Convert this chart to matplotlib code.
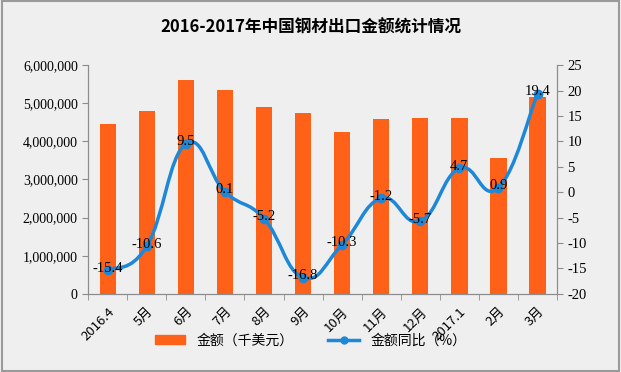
import numpy as np
import matplotlib.pyplot as plt
from matplotlib.path import Path
from matplotlib.patches import PathPatch, Rectangle

plt.rcParams['font.family'] = ['Noto Sans CJK SC', 'DejaVu Sans']

months = ['2016.4', '5月', '6月', '7月', '8月', '9月', '10月', '11月',
          '12月', '2017.1', '2月', '3月']
amount = [4450000, 4790000, 5600000, 5340000, 4900000, 4740000, 4240000,
          4580000, 4610000, 4600000, 3560000, 5160000]
yoy = [-15.4, -10.6, 9.5, 0.1, -5.2, -16.8, -10.3, -1.2, -5.7, 4.7, 0.9, 19.4]

bar_color = '#FF6119'
line_color = '#1E88D8'
axis_color = '#8C8C8C'
num_font = ['Liberation Serif', 'DejaVu Serif']

fig = plt.figure(figsize=(6.21, 3.72), dpi=100)
fig.patch.set_facecolor('#EFEFEF')
fig.patches.append(Rectangle((0.003, 0.004), 0.994, 0.992, transform=fig.transFigure,
                             fill=False, edgecolor='#9A9A9A', linewidth=1.5))

ax = fig.add_axes([0.142, 0.210, 0.755, 0.615])
ax.set_facecolor('none')
x = np.arange(len(months))
ax.bar(x, amount, width=0.42, color=bar_color, zorder=2)
ax.set_xlim(-0.5, len(months) - 0.5)
ax.set_ylim(0, 6000000)
ax.set_yticks(np.arange(0, 6000001, 1000000))
ax.set_yticklabels([f'{v:,}' for v in range(0, 6000001, 1000000)], family=num_font)
ax.set_xticks(x)
ax.set_xticklabels(months, rotation=45, ha='right', rotation_mode='anchor')
ax.set_xticks(np.arange(-0.5, len(months), 1), minor=True)
ax.tick_params(axis='x', which='major', length=0, pad=8, labelsize=9.5)
ax.tick_params(axis='x', which='minor', length=4, color=axis_color)
ax.tick_params(axis='y', length=4, color=axis_color, labelsize=10)

ax2 = ax.twinx()
ax2.set_ylim(-20, 25)
ax2.set_yticks(np.arange(-20, 26, 5))
ax2.set_yticklabels([str(v) for v in range(-20, 26, 5)], family=num_font)
ax2.tick_params(axis='y', length=4, color=axis_color, labelsize=10.5)

for a in (ax, ax2):
    a.spines['top'].set_visible(False)
    for s in ('left', 'right', 'bottom'):
        a.spines[s].set_color(axis_color)

# smooth curve through the points (cardinal spline as bezier segments)
pts = np.column_stack([x, yoy])
verts = [tuple(pts[0])]
codes = [Path.MOVETO]
t = 0.22
for i in range(len(pts) - 1):
    p0 = pts[max(i - 1, 0)]
    p1 = pts[i]
    p2 = pts[i + 1]
    p3 = pts[min(i + 2, len(pts) - 1)]
    c1 = p1 + (p2 - p0) * t
    c2 = p2 - (p3 - p1) * t
    verts += [tuple(c1), tuple(c2), tuple(p2)]
    codes += [Path.CURVE4] * 3
ax2.add_patch(PathPatch(Path(verts, codes), fill=False, edgecolor=line_color,
                        linewidth=2.5, zorder=3))
ax2.plot(x, yoy, 'o', color=line_color, markersize=6, zorder=4)

for xi, v in zip(x, yoy):
    ax2.text(xi, v + 0.4, f'{v}', ha='center', va='center', fontsize=10.5,
             family=num_font, zorder=5)

fig.text(0.5, 0.925, '2016-2017年中国钢材出口金额统计情况', ha='center', va='center',
         fontsize=12, fontweight='bold')

handles = [plt.Rectangle((0, 0), 1, 1, color=bar_color),
           plt.Line2D([], [], color=line_color, linewidth=2.5, marker='o', markersize=5)]
fig.legend(handles, ['金额（千美元）', '金额同比（%）'], loc='center',
           bbox_to_anchor=(0.5, 0.085), ncol=2, frameon=False, fontsize=10,
           handlelength=2.2, columnspacing=2.5)

fig.savefig('out.png', dpi=100, facecolor=fig.get_facecolor())
